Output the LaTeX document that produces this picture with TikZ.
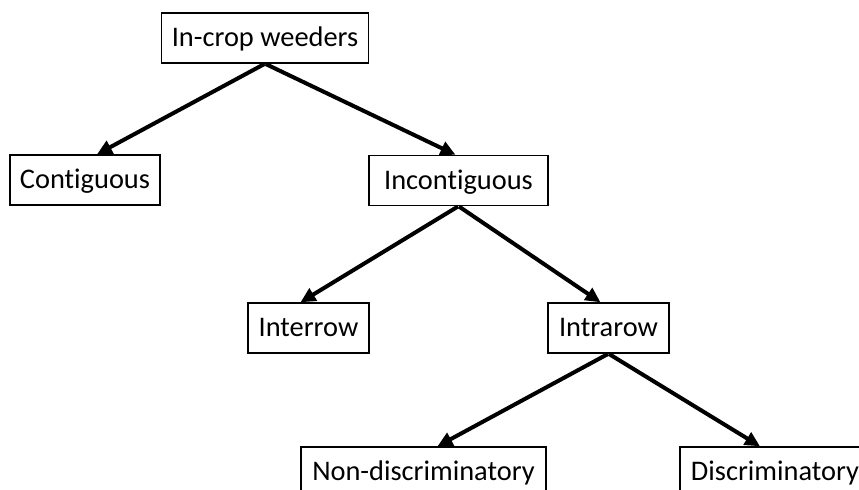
\documentclass[tikz,border=0pt]{standalone}
\usepackage{fontspec}
\setmainfont{Carlito}[Ligatures=CommonOff]
\usetikzlibrary{arrows.meta}
\begin{document}
\begin{tikzpicture}[x=0.5pt,y=-0.5pt,>={Triangle[length=7.5pt,width=7pt]},
  box/.style={draw,line width=0.7pt,minimum height=25pt,inner xsep=5pt,
    text height=12pt,text depth=3pt,font=\fontsize{14.2pt}{16pt}\selectfont},
  link/.style={->,line width=2pt,shorten <=0.3pt}]
\useasboundingbox (0,0) rectangle (859,490);
\clip (0,0) rectangle (859,490);

\node[box,minimum width=103pt] (crop) at (265,38) {In-crop weeders};
\node[box,minimum width=74pt] (contig) at (85,180) {Contiguous};
\node[box,minimum width=89.5pt] (incontig) at (458.5,180.5) {Incontiguous};
\node[box,minimum width=60.5pt] (inter) at (308.5,328) {Interrow};
\node[box,minimum width=60.5pt] (intra) at (608.5,328) {Intrarow};
\node[box,minimum width=122.5pt] (nondisc) at (423.5,472) {Non-discriminatory};
\node[box,minimum width=95pt] (disc) at (775,472) {Discriminatory};

\draw[link] (crop.south) -- ([xshift=6pt]contig.north);
\draw[link] (crop.south) -- ([xshift=-1.5pt]incontig.north);
\draw[link] (incontig.south) -- ([xshift=-4pt]inter.north);
\draw[link] (incontig.south) -- ([xshift=-4pt]intra.north);
\draw[link] (intra.south) -- ([xshift=7pt]nondisc.north);
\draw[link] (intra.south) -- ([xshift=-7.5pt]disc.north);

\end{tikzpicture}
\end{document}
